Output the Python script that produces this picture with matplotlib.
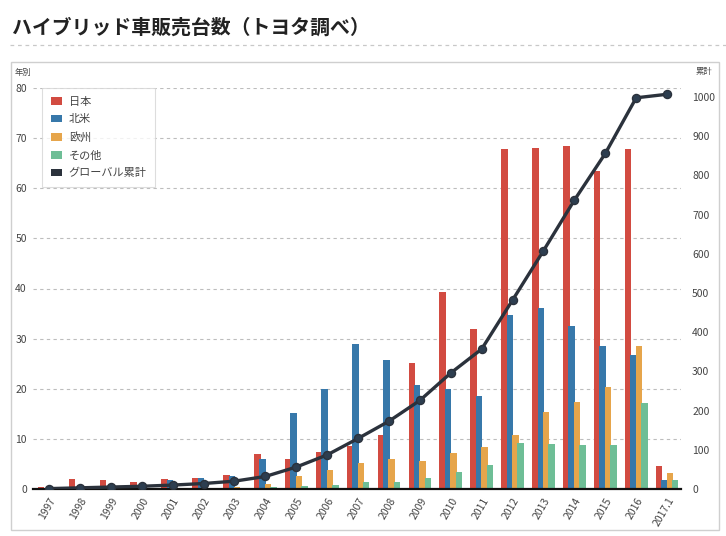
import numpy as np
import matplotlib.pyplot as plt
from matplotlib.patches import Patch, Rectangle
from matplotlib.lines import Line2D

plt.rcParams['font.family'] = ['Noto Sans CJK JP', 'DejaVu Sans']

# 年別販売台数（万台）
years = ["1997", "1998", "1999", "2000", "2001", "2002", "2003", "2004", "2005", "2006",
         "2007", "2008", "2009", "2010", "2011", "2012", "2013", "2014", "2015", "2016", "2017.1"]
japan = [0.3, 1.9, 1.8, 1.4, 1.9, 2.1, 2.8, 7.0, 6.0, 7.3,
         8.5, 10.7, 25.2, 39.4, 32.0, 67.9, 68.0, 68.5, 63.5, 67.9, 4.5]
north_america = [0.0, 0.0, 0.0, 0.2, 1.7, 2.1, 2.6, 5.9, 15.2, 20.0,
                 28.9, 25.7, 20.7, 19.9, 18.6, 34.7, 36.1, 32.5, 28.5, 26.8, 1.7]
europe = [0.0, 0.0, 0.0, 0.1, 0.1, 0.2, 0.3, 0.9, 2.5, 3.8,
          5.1, 6.0, 5.6, 7.1, 8.4, 10.8, 15.4, 17.4, 20.3, 28.6, 3.1]
others = [0.0, 0.0, 0.0, 0.0, 0.1, 0.1, 0.2, 0.4, 0.5, 0.8,
          1.3, 1.4, 2.1, 3.4, 4.7, 9.1, 9.0, 8.8, 8.8, 17.2, 1.8]
# グローバル累計（万台）
cumulative = [1, 3, 5, 7, 10, 14, 20, 32, 56, 87,
              129, 173, 226, 296, 357, 482, 608, 737, 856, 998, 1007]

series = [("日本", japan, "#d24b41"),
          ("北米", north_america, "#3778aa"),
          ("欧州", europe, "#e6a54b"),
          ("その他", others, "#6ebe96")]
line_color = "#2b323c"

fig = plt.figure(figsize=(7.26, 5.36), dpi=100)

# タイトルと区切り線
fig.text(12 / 726, 1 - 27 / 536, "ハイブリッド車販売台数（トヨタ調べ）",
         fontsize=14.3, fontweight="bold", color="#222222", va="center", ha="left")
fig.add_artist(Line2D([10 / 726, 1.0], [1 - 45 / 536, 1 - 45 / 536], transform=fig.transFigure,
                      color="#c8c8c8", lw=0.9, ls=(0, (3, 3))))
fig.add_artist(Rectangle((11 / 726, 1 - 530 / 536), 708 / 726, 468 / 536, transform=fig.transFigure,
                         fill=False, edgecolor="#cfcfcf", lw=1.0))

ax = fig.add_axes([33 / 726, 47 / 536, 648 / 726, 401 / 536])
x = np.arange(len(years))
width = 0.21
step = 0.175
for i, (name, vals, col) in enumerate(series):
    ax.bar(x + (i - 1.5) * step, vals, width=width, color=col, zorder=2)

ax.set_xlim(-0.52, 20.45)
ax.set_ylim(0, 80)
ax.set_yticks(range(0, 81, 10))
ax.yaxis.grid(True, color="#bdbdbd", lw=0.8, ls=(0, (3, 3)))
ax.set_axisbelow(True)
ax.set_xticks(x)
ax.set_xticklabels(years, rotation=60, ha="right", rotation_mode="anchor")
ax.tick_params(axis="both", length=0, labelsize=7.5, labelcolor="#444444")
ax.tick_params(axis="y", pad=4.5)
ax.tick_params(axis="x", pad=5)
for s in ["top", "left", "right"]:
    ax.spines[s].set_visible(False)
ax.spines["bottom"].set_color("#111111")
ax.spines["bottom"].set_linewidth(1.6)
ax.spines["bottom"].set_zorder(3)

ax2 = ax.twinx()
ax2.plot(x, cumulative, color=line_color, lw=2.4, marker="o", markersize=5.8,
         markerfacecolor="#2d3e50", markeredgecolor=line_color, zorder=4)
ax2.set_ylim(0, 1023)
ax2.set_yticks(range(0, 1001, 100))
ax2.tick_params(axis="y", length=0, labelsize=7.5, labelcolor="#444444", pad=8)
for s in ["top", "left", "right", "bottom"]:
    ax2.spines[s].set_visible(False)

fig.text(15 / 726, 1 - 72 / 536, "年別", fontsize=6, color="#444444", va="center")
fig.text(696 / 726, 1 - 72 / 536, "累計", fontsize=6, color="#444444", va="center")

handles = [Patch(facecolor=c, edgecolor="none") for _, _, c in series]
handles.append(Patch(facecolor=line_color, edgecolor="none"))
labels = [n for n, _, _ in series] + ["グローバル累計"]
leg = ax2.legend(handles, labels, loc="upper left", bbox_to_anchor=(9 / 648, 1.0),
                 fontsize=8, frameon=True, fancybox=False, edgecolor="#d5d5d5",
                 handlelength=1.0, handleheight=0.7, handletextpad=0.6,
                 labelspacing=0.68, borderpad=0.8, borderaxespad=0)
leg.get_frame().set_linewidth(0.8)
for t in leg.get_texts():
    t.set_color("#444444")

fig.savefig("out.png", dpi=100)
